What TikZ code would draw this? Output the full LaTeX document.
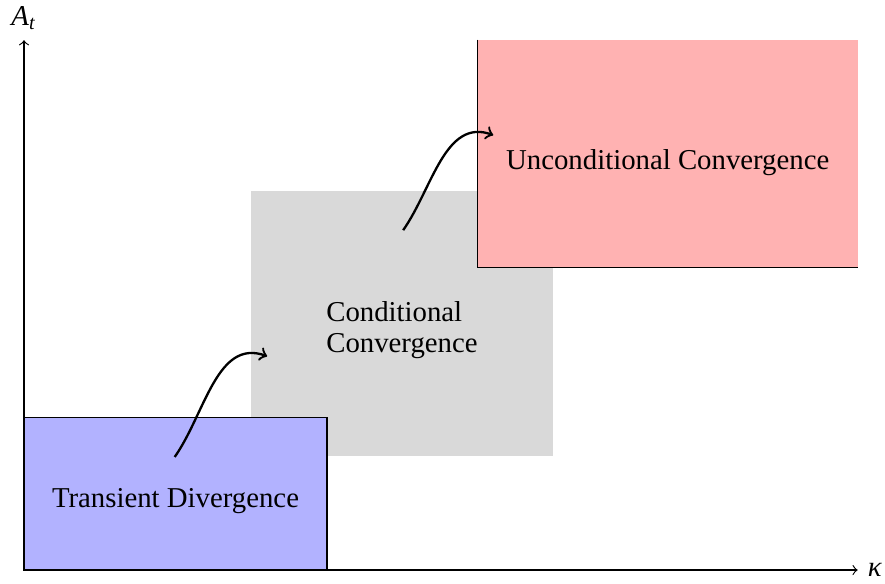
\documentclass[tikz,border=0pt]{standalone}
\usepackage{fontspec}
\setmainfont{Liberation Serif}
\usetikzlibrary{calc}
\usetikzlibrary{arrows}
\usetikzlibrary{positioning}

\tikzset{
  regime/.style={inner sep=0pt},
  tag/.style={inner sep=0pt, align=left, font=\linespread{0.9}\selectfont},
  hop/.style={->, thick, out=55, in=160}
}

\begin{document}
\begin{tikzpicture}
  \useasboundingbox (-0.293,-0.159) rectangle (10.513,6.960);
  \coordinate (o) at (0,0);
  \coordinate[right=10.18cm] (xend) at (o);
  \coordinate[above=6.47cm] (yend) at (o);

  \node[regime, fill=gray!30, minimum width=3.69cm, minimum height=3.24cm] (cond) at (4.615,3.01) {};
  \node[regime, fill=blue!30, draw, minimum width=3.70cm, minimum height=1.86cm] (trans) at (1.85,0.93) {};
  \node[regime, fill=red!30, minimum width=4.64cm, minimum height=2.77cm] (uncond) at (7.86,5.085) {};
  \draw (uncond.north west) -- (uncond.south west) -- (uncond.south east);

  \node[tag] (condtext) at ([yshift=-2.4pt]cond.center) {Conditional\\Convergence};
  \node[tag] (transtext) at ([yshift=-2.4pt]trans.center) {Transient Divergence};
  \node[tag] (uncondtext) at ([yshift=-3pt]uncond.center) {Unconditional Convergence};

  \draw[->] (o) -- (xend) node[right] {\textit{κ}};
  \draw[->] (o) -- (yend) node[above] {\textit{A}\textsubscript{\textit{t}}};

  \coordinate (a1) at (1.84,1.38);
  \coordinate (b1) at (2.97,2.61);
  \coordinate (a2) at (4.63,4.15);
  \coordinate (b2) at (5.73,5.31);
  \draw[hop] (a1) to (b1);
  \draw[hop] (a2) to (b2);
\end{tikzpicture}
\end{document}
